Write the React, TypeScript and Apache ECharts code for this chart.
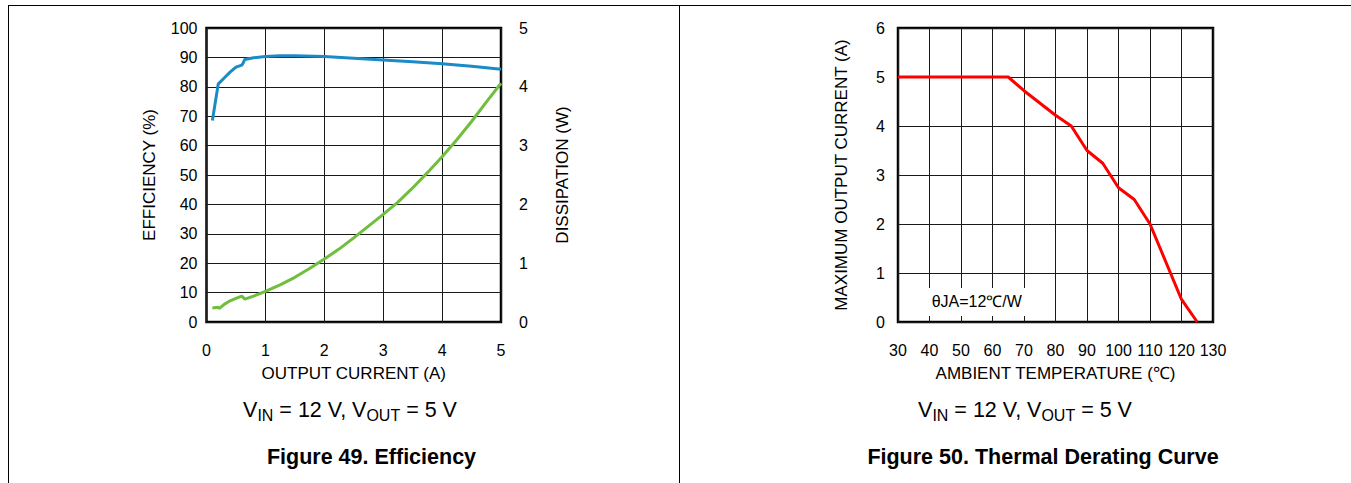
import React, { useEffect, useRef } from "react";
import * as echarts from "echarts";

// Figure 49: efficiency and dissipation vs output current
const effCurrent = [0.1, 0.2, 0.3, 0.4, 0.5, 0.6, 0.62, 0.65, 0.8, 1.0, 1.25, 1.5, 2.0, 2.5, 3.0, 3.5, 4.0, 4.5, 5.0];
const efficiency = [68.5, 81, 83, 85, 86.7, 87.4, 88.0, 89.3, 89.9, 90.3, 90.6, 90.6, 90.3, 89.7, 89.1, 88.5, 87.8, 87.0, 86.0];

const disCurrent = [0.1, 0.2, 0.22, 0.3, 0.4, 0.5, 0.6, 0.65, 0.8, 1.0, 1.25, 1.5, 1.75, 2.0, 2.25, 2.5, 2.75, 3.0, 3.25, 3.5, 3.75, 4.0, 4.25, 4.5, 4.75, 5.0];
const dissipation = [0.24, 0.25, 0.23, 0.3, 0.36, 0.4, 0.44, 0.39, 0.44, 0.52, 0.63, 0.76, 0.91, 1.07, 1.24, 1.43, 1.63, 1.83, 2.04, 2.28, 2.54, 2.81, 3.1, 3.41, 3.74, 4.06];

// Figure 50: thermal derating
const ambientTemp = [30, 65, 70, 80, 85, 90, 95, 100, 105, 110, 120, 125];
const maxCurrent = [5, 5, 4.72, 4.22, 4.0, 3.5, 3.24, 2.74, 2.5, 2.0, 0.46, 0];

const FONT = "'Liberation Sans', Arial, Helvetica, sans-serif";

function pairs(xs: number[], ys: number[]) {
  return xs.map((x, i) => [x, ys[i]]);
}

export default function App() {
  const ref = useRef<HTMLDivElement>(null);
  useEffect(() => {
    const chart = echarts.init(ref.current!, null, { renderer: "svg" });
    const tick = { color: "#000", fontSize: 16, fontFamily: FONT };
    const nameStyle = { color: "#000", fontSize: 17, fontFamily: FONT };
    const split = { show: true, lineStyle: { color: "#1a1a1a", width: 1 } };
    const noLine = { show: false };
    const gridBase = { show: true, borderColor: "#000", borderWidth: 2.5, backgroundColor: "transparent" };
    const captionRich = {
      n: { fontSize: 21.5, fontFamily: FONT, color: "#000" },
      s: { fontSize: 16, fontFamily: FONT, color: "#000", padding: [10, 0, 0, 0] },
    };
    const option: any = {
      animation: false,
      grid: [
        { ...gridBase, left: 206.5, top: 28, width: 294.5, height: 294 },
        { ...gridBase, left: 898, top: 28, width: 315, height: 294 },
      ],
      xAxis: [
        {
          type: "value", gridIndex: 0, min: 0, max: 5, interval: 1,
          axisLine: noLine, axisTick: noLine, splitLine: split,
          axisLabel: { ...tick, margin: 20 },
          name: "OUTPUT CURRENT (A)", nameLocation: "middle", nameGap: 43, nameTextStyle: nameStyle,
        },
        {
          type: "value", gridIndex: 1, min: 30, max: 130, interval: 10,
          axisLine: noLine, axisTick: noLine, splitLine: split,
          axisLabel: { ...tick, margin: 20 },
          name: "AMBIENT TEMPERATURE (℃)", nameLocation: "middle", nameGap: 43, nameTextStyle: nameStyle,
        },
      ],
      yAxis: [
        {
          type: "value", gridIndex: 0, min: 0, max: 100, interval: 10, position: "left",
          axisLine: noLine, axisTick: noLine, splitLine: split,
          axisLabel: { ...tick, margin: 9 },
          name: "EFFICIENCY (%)", nameLocation: "middle", nameGap: 49, nameTextStyle: nameStyle,
        },
        {
          type: "value", gridIndex: 0, min: 0, max: 5, interval: 1, position: "right",
          axisLine: noLine, axisTick: noLine, splitLine: { show: false },
          axisLabel: { ...tick, margin: 18 },
          name: "DISSIPATION (W)", nameLocation: "middle", nameGap: 53, nameTextStyle: nameStyle,
        },
        {
          type: "value", gridIndex: 1, min: 0, max: 6, interval: 1, position: "left",
          axisLine: noLine, axisTick: noLine, splitLine: split,
          axisLabel: { ...tick, margin: 13 },
          name: "MAXIMUM OUTPUT CURRENT (A)", nameLocation: "middle", nameGap: 48, nameTextStyle: nameStyle,
        },
      ],
      series: [
        {
          type: "line", xAxisIndex: 0, yAxisIndex: 0, data: pairs(effCurrent, efficiency),
          showSymbol: false, symbol: "none", lineStyle: { color: "#1a8bc6", width: 3 },
        },
        {
          type: "line", xAxisIndex: 0, yAxisIndex: 1, data: pairs(disCurrent, dissipation),
          showSymbol: false, symbol: "none", lineStyle: { color: "#6fbe3d", width: 3 },
        },
        {
          type: "line", xAxisIndex: 1, yAxisIndex: 2, data: pairs(ambientTemp, maxCurrent),
          showSymbol: false, symbol: "none", lineStyle: { color: "#ff0000", width: 3 },
          markPoint: {
            symbol: "rect", symbolSize: 0, silent: true,
            data: [{ coord: [55, 0.41] }],
            label: {
              show: true, position: "inside", formatter: "θJA=12℃/W",
              color: "#000", fontSize: 16, fontFamily: FONT,
              backgroundColor: "#fff", padding: [6, 5, 6, 5],
            },
          },
        },
      ],
      graphic: [
        { type: "line", shape: { x1: 8, y1: 5.5, x2: 1351, y2: 5.5 }, style: { stroke: "#000", lineWidth: 1 } },
        { type: "line", shape: { x1: 8.5, y1: 5, x2: 8.5, y2: 483 }, style: { stroke: "#000", lineWidth: 1 } },
        { type: "line", shape: { x1: 679.5, y1: 5, x2: 679.5, y2: 483 }, style: { stroke: "#000", lineWidth: 1 } },
        {
          type: "text", x: 350, y: 410,
          style: {
            text: "{n|V}{s|IN}{n| = 12 V, V}{s|OUT}{n| = 5 V}", rich: captionRich,
            align: "center", verticalAlign: "middle",
          },
        },
        {
          type: "text", x: 371.5, y: 457,
          style: {
            text: "Figure 49. Efficiency", fontSize: 21.5, fontWeight: "bold", fontFamily: FONT, fill: "#000",
            align: "center", verticalAlign: "middle",
          },
        },
        {
          type: "text", x: 1025, y: 410,
          style: {
            text: "{n|V}{s|IN}{n| = 12 V, V}{s|OUT}{n| = 5 V}", rich: captionRich,
            align: "center", verticalAlign: "middle",
          },
        },
        {
          type: "text", x: 1043, y: 457,
          style: {
            text: "Figure 50. Thermal Derating Curve", fontSize: 21.5, fontWeight: "bold", fontFamily: FONT, fill: "#000",
            align: "center", verticalAlign: "middle",
          },
        },
      ],
    };
    chart.setOption(option);
    return () => chart.dispose();
  }, []);
  return (
    <div
      ref={ref}
      style={{ position: "absolute", left: 0, top: 0, width: 1351, height: 483, background: "#fff" }}
    />
  );
}
